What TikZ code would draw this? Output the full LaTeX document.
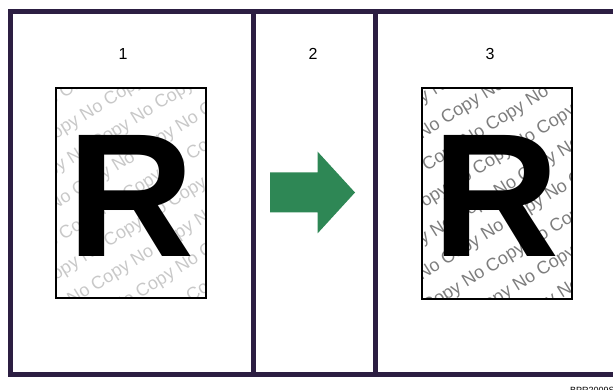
\documentclass[tikz,border=0pt]{standalone}
\usepackage{fontspec}
\setmainfont{Liberation Sans}
\definecolor{framecol}{RGB}{44,30,66}
\definecolor{arrowgreen}{RGB}{46,135,85}
\definecolor{wmlight}{RGB}{200,200,200}
\definecolor{wmdark}{RGB}{125,125,125}
\begin{document}
\begin{tikzpicture}[x=1pt,y=-1pt,
  frameline/.style={draw=framecol,line width=5pt},
  numlabel/.style={font=\fontsize{16}{16}\selectfont,inner sep=0pt},
  docbox/.style={draw=black,line width=2pt},
  bigR/.style={font=\bfseries\fontsize{176}{176}\selectfont,inner sep=0pt,anchor=base},
  wm/.style={font=\fontsize{18}{18}\selectfont,inner sep=0pt,rotate=32}]
\useasboundingbox (0,0) rectangle (613,390);
% outer frame and dividers
\draw[frameline] (640,12) -- (10,12) -- (10,374) -- (640,374);
\draw[frameline] (253,12) -- (253,374);
\draw[frameline] (375,12) -- (375,374);
% numbers
\node[numlabel] (n1) at (123,54) {1};
\node[numlabel] (n2) at (313,54) {2};
\node[numlabel] (n3) at (490,54) {3};
% document 1
\begin{scope}
  \clip (56,88) rectangle (206,298);
  \foreach \k in {-5,...,5}{
    \pgfmathsetmacro{\s}{mod(\k+10,2)*34}
    \node[wm,text=wmlight] at (131+\k*15.9+\s*0.848,193+\k*25.4-\s*0.53) {No Copy No Copy No Copy No Copy No Copy};
  }
\end{scope}
\node[docbox,minimum width=150pt,minimum height=210pt,inner sep=0pt] (doc1) at (131,193) {};
\node[bigR] (r1) at (131,256) {R};
% arrow
\fill[arrowgreen] (270,172.5) -- (317.5,172.5) -- (317.5,151.5) -- (355,192.5) -- (317.5,233.5) -- (317.5,212.5) -- (270,212.5) -- cycle;
% document 3
\begin{scope}
  \clip (422,88) rectangle (572,299);
  \foreach \k in {-5,...,5}{
    \pgfmathsetmacro{\s}{mod(\k+11,2)*34}
    \node[wm,text=wmdark] at (497+\k*15.9+\s*0.848,193+\k*25.4-\s*0.53) {No Copy No Copy No Copy No Copy No Copy};
  }
\end{scope}
\node[docbox,minimum width=150pt,minimum height=211pt,inner sep=0pt] (doc3) at (497,193.5) {};
\node[bigR] (r3) at (496,256) {R};
% code
\node[font=\fontsize{9}{9}\selectfont,anchor=north west,inner sep=0pt] (code) at (570,387) {BPR2009S};
\end{tikzpicture}
\end{document}
